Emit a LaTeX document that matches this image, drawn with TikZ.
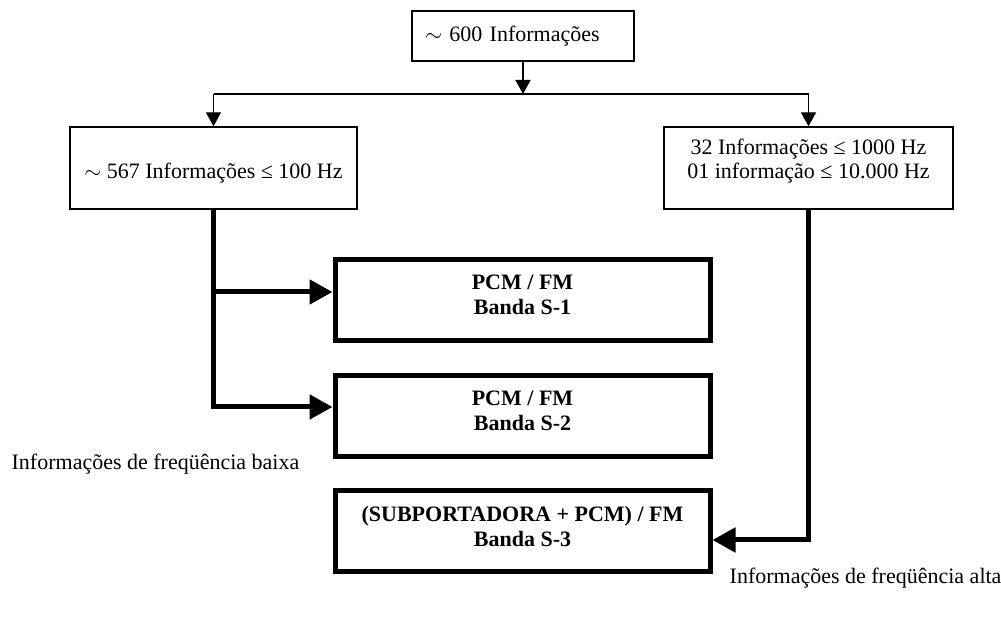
\documentclass[tikz,border=0pt]{standalone}
\usepackage{fontspec}
\setmainfont{Liberation Serif}
\usetikzlibrary{arrows.meta, positioning}

\begin{document}
\begin{tikzpicture}[
  x=1pt, y=1pt,
  font=\fontsize{11}{12}\selectfont,
  caixa/.style={rectangle, draw, line width=0.7pt, minimum height=41pt, align=center},
  caixagrossa/.style={rectangle, draw, line width=2.5pt, minimum width=187.5pt, minimum height=40.5pt, align=center, text depth=5pt, font=\fontsize{11}{12.5}\selectfont\bfseries},
  nota/.style={anchor=west},
  seta/.style={-{Triangle[length=7pt, width=7.5pt]}, line width=0.7pt},
  setagrossa/.style={-{Triangle[length=11.5pt, width=12pt]}, line width=2.5pt}
]
\useasboundingbox (0,0) rectangle (500.5,-309.5);

% NODES
\node[caixa, minimum width=111pt, minimum height=25pt, text width=98pt, align=left] (topo) at (261.5,-18) {$\sim$ 600 Informações};
\node[caixa, minimum width=143.5pt, text height=12.5pt] (baixa) at (106.75,-84) {$\sim$ 567 Informações ≤ 100 Hz};
\node[caixa, minimum width=144.5pt, text depth=9.5pt] (alta) at (404.25,-84) {32 Informações ≤ 1000 Hz\\01 informação ≤ 10.000 Hz};
\node[caixagrossa] (s1) at (261.25,-150) {PCM / FM\\Banda S-1};
\node[caixagrossa] (s2) at (261.25,-208) {PCM / FM\\Banda S-2};
\node[caixagrossa] (s3) at (261.25,-265.5) {(SUBPORTADORA + PCM) / FM\\Banda S-3};
\node[nota] (notabaixa) at (2.3,-232) {Informações de freqüência baixa};
\node[nota] (notaalta) at (361.3,-289) {Informações de freqüência alta};

\coordinate (barra) at (0,-47);
\coordinate (e1) at ([yshift=4pt]s1.west);
\coordinate (e2) at ([yshift=4.5pt]s2.west);
\coordinate (e3) at ([yshift=-4.5pt]s3.east);

% FLOW
\draw[seta] (topo) -- (topo |- barra);
\draw[line width=0.7pt] (baixa.north |- barra) -- (alta.north |- barra);
\draw[seta] (baixa.north |- barra) -- (baixa);
\draw[seta] (alta.north |- barra) -- (alta);
\draw[setagrossa] (baixa) |- (e2);
\draw[setagrossa] (e1 -| baixa) -- (e1);
\draw[setagrossa] (alta) |- (e3);

\end{tikzpicture}
\end{document}
